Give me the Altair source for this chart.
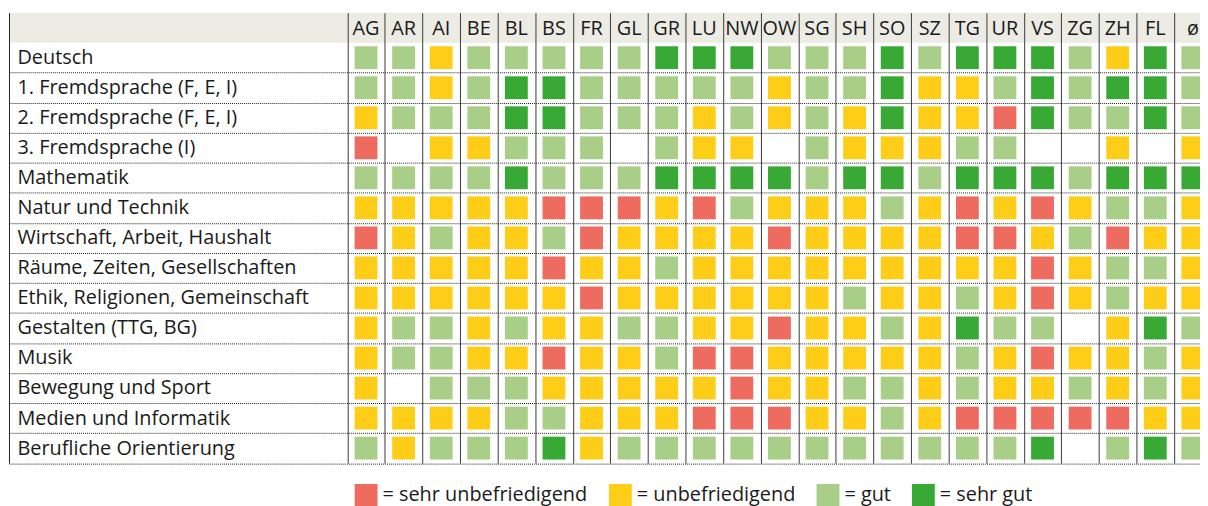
import altair as alt
import pandas as pd

cantons = ["AG", "AR", "AI", "BE", "BL", "BS", "FR", "GL", "GR", "LU", "NW", "OW",
           "SG", "SH", "SO", "SZ", "TG", "UR", "VS", "ZG", "ZH", "FL", "ø"]

subjects = [
    "Deutsch",
    "1. Fremdsprache (F, E, I)",
    "2. Fremdsprache (F, E, I)",
    "3. Fremdsprache (I)",
    "Mathematik",
    "Natur und Technik",
    "Wirtschaft, Arbeit, Haushalt",
    "Räume, Zeiten, Gesellschaften",
    "Ethik, Religionen, Gemeinschaft",
    "Gestalten (TTG, BG)",
    "Musik",
    "Bewegung und Sport",
    "Medien und Informatik",
    "Berufliche Orientierung",
]

levels = ["sehr unbefriedigend", "unbefriedigend", "gut", "sehr gut"]
level_colors = ["#EE6B60", "#FECD17", "#A9CE87", "#39A935"]

# 1 = sehr unbefriedigend, 2 = unbefriedigend, 3 = gut, 4 = sehr gut, 0 = keine Angabe
deutsch          = [3, 3, 2, 3, 3, 3, 3, 3, 4, 4, 4, 3, 3, 3, 4, 3, 4, 4, 4, 3, 2, 4, 3]
fremdsprache_1   = [3, 3, 2, 3, 4, 4, 3, 3, 3, 3, 3, 2, 3, 3, 4, 2, 2, 3, 4, 3, 4, 4, 3]
fremdsprache_2   = [2, 3, 3, 3, 4, 4, 3, 3, 3, 2, 3, 2, 3, 2, 4, 2, 2, 1, 4, 3, 3, 4, 3]
fremdsprache_3   = [1, 0, 2, 2, 3, 3, 3, 0, 3, 2, 2, 0, 3, 2, 2, 2, 3, 3, 0, 0, 2, 0, 2]
mathematik       = [3, 3, 3, 3, 4, 3, 3, 3, 4, 4, 4, 4, 3, 4, 4, 3, 4, 4, 4, 3, 4, 4, 4]
natur_technik    = [2, 2, 2, 2, 2, 1, 1, 1, 2, 1, 3, 2, 2, 2, 3, 2, 1, 2, 1, 2, 3, 3, 2]
wirtschaft       = [1, 2, 3, 2, 2, 3, 1, 2, 2, 2, 2, 1, 2, 2, 2, 2, 1, 1, 2, 3, 1, 2, 2]
raeume_zeiten    = [2, 2, 2, 2, 2, 1, 2, 2, 3, 2, 2, 2, 2, 2, 2, 2, 2, 2, 1, 2, 3, 3, 2]
ethik            = [2, 2, 2, 2, 2, 2, 1, 2, 2, 2, 2, 2, 2, 3, 2, 2, 3, 2, 1, 2, 3, 2, 2]
gestalten        = [2, 3, 3, 2, 3, 2, 2, 3, 3, 2, 2, 1, 2, 2, 3, 2, 4, 3, 3, 0, 2, 4, 3]
musik            = [2, 3, 3, 2, 2, 1, 2, 2, 3, 1, 1, 2, 2, 2, 2, 2, 3, 2, 1, 2, 2, 3, 2]
bewegung_sport   = [2, 0, 3, 3, 3, 2, 2, 2, 2, 2, 1, 2, 2, 3, 3, 2, 3, 2, 2, 3, 2, 3, 2]
medien           = [2, 2, 2, 2, 3, 3, 2, 2, 2, 1, 1, 1, 2, 2, 3, 2, 1, 1, 1, 1, 1, 2, 2]
berufliche_or    = [3, 2, 3, 3, 3, 4, 2, 3, 3, 3, 3, 3, 3, 3, 3, 3, 3, 3, 4, 0, 3, 4, 3]

ratings = [deutsch, fremdsprache_1, fremdsprache_2, fremdsprache_3, mathematik,
           natur_technik, wirtschaft, raeume_zeiten, ethik, gestalten, musik,
           bewegung_sport, medien, berufliche_or]

HEADER = "header"
FONT = "Open Sans"

# column position of each canton (column i spans i .. i+1 on the x scale)
col_pos = {c: i + 0.5 for i, c in enumerate(cantons)}

records = []
for subj, vals in zip(subjects, ratings):
    for canton, v in zip(cantons, vals):
        if v > 0:
            records.append({"subject": subj, "canton": canton,
                            "col": col_pos[canton], "level": levels[v - 1]})
cells = pd.DataFrame(records)
header = pd.DataFrame({"canton": cantons, "col": [col_pos[c] for c in cantons],
                       "subject": HEADER})
band = pd.DataFrame({"subject": [HEADER]})

W, H = 1199, 453.5
# the left 9 column-widths hold the subject names; the last column runs off the page
x_scale = alt.Scale(domain=[-9.0, 22.69], nice=False, zero=False)
y_scale = alt.Scale(domain=[HEADER] + subjects, paddingInner=0, paddingOuter=0)

hide_test = "datum.value === 'header' || datum.value == null"

y_axis = alt.Axis(
    title=None, orient="left", ticks=False, domain=True, domainColor="#222222",
    domainWidth=1, grid=True, tickBand="extent", gridDash=[1, 1],
    gridColor="#222222", gridWidth=1,
    gridOpacity={"condition": {"test": hide_test, "value": 0}, "value": 1},
    labelAlign="left", labelBaseline="middle", labelPadding=-8,
    labelFont=FONT, labelFontSize=20, labelColor="#1a1a1a", labelLimit=0,
    labelOverlap=False,
    labelExpr="datum.value === 'header' ? '' : datum.label", zindex=1,
)
x_axis = alt.Axis(
    title=None, orient="top", labels=False, ticks=False, domain=False, grid=True,
    values=list(range(len(cantons))), gridColor="#3a3a3a", gridWidth=1, zindex=1,
)

bg = alt.Chart(band).mark_rect(color="#ECEBE4").encode(
    y=alt.Y("subject:N", scale=y_scale, axis=y_axis),
)

heads = alt.Chart(header).mark_text(
    font=FONT, fontSize=20, color="#1a1a1a", baseline="middle", align="center", dy=1
).encode(
    x=alt.X("col:Q", scale=x_scale, axis=x_axis),
    y=alt.Y("subject:N", scale=y_scale, axis=y_axis),
    text="canton:N",
)

squares = alt.Chart(cells).mark_square(size=529, opacity=1, strokeWidth=0).encode(
    x=alt.X("col:Q", scale=x_scale, axis=x_axis),
    y=alt.Y("subject:N", scale=y_scale, axis=y_axis),
    color=alt.Color(
        "level:N",
        scale=alt.Scale(domain=levels, range=level_colors),
        legend=alt.Legend(
            orient="none", legendX=348, legendY=474.5, direction="horizontal",
            title=None, symbolType="square", symbolSize=529, symbolStrokeWidth=0,
            symbolOpacity=1, labelFont=FONT, labelFontSize=20, labelColor="#1a1a1a",
            labelOffset=5, columnPadding=21, padding=0, labelLimit=0,
            labelExpr="'= ' + datum.label",
        ),
    ),
    tooltip=["subject:N", "canton:N", "level:N"],
)

chart = alt.layer(bg, heads, squares).properties(
    width=W, height=H,
    autosize=alt.AutoSizeParams(type="none"),
    padding={"left": 1, "top": 3, "right": 0, "bottom": 41.5},
    background="white",
).configure_view(stroke=None)

chart.save("out.html", embed_options={"renderer": "svg", "actions": False})
